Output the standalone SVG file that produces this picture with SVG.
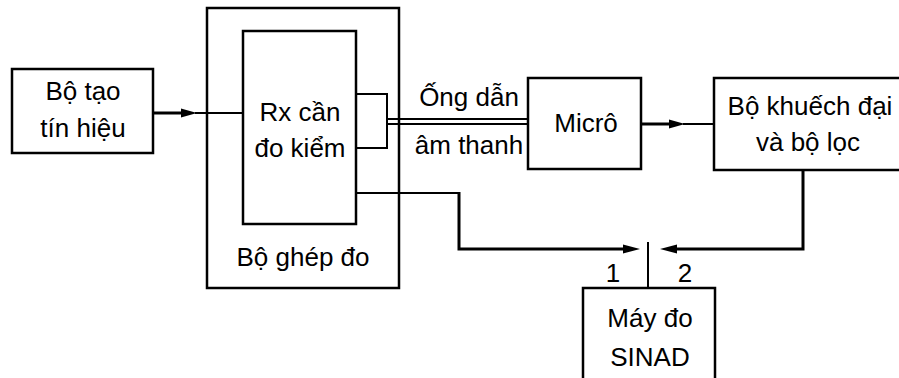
<svg xmlns="http://www.w3.org/2000/svg" width="899" height="378" viewBox="0 0 899 378">
<style>
.box{fill:none;stroke:#000;stroke-width:2.5}
.t{font-family:"Liberation Sans",Arial,sans-serif;font-size:26px;fill:#000;text-anchor:middle}
.w{fill:none;stroke:#000;stroke-width:3}
.n{fill:none;stroke:#000;stroke-width:2}
.ah{fill:#000;stroke:none}
</style>
<rect width="899" height="378" fill="#fff"/>
<g id="signal-generator">
<rect class="box" x="12" y="69" width="141" height="84"/>
<text class="t" x="83" y="100">Bộ tạo</text>
<text class="t" x="83" y="137">tín hiệu</text>
</g>
<g id="coupler">
<rect class="box" x="207" y="8" width="192" height="280"/>
<text class="t" x="303" y="266">Bộ ghép đo</text>
</g>
<g id="rx">
<rect class="box" x="243" y="31" width="113" height="193"/>
<text class="t" x="300" y="121">Rx cần</text>
<text class="t" x="300" y="157">đo kiểm</text>
</g>
<g id="tube-label">
<text class="t" x="469" y="106">Ống dẫn</text>
<text class="t" x="469" y="154">âm thanh</text>
</g>
<g id="micro">
<rect class="box" x="528" y="78" width="113" height="91"/>
<text class="t" x="586" y="132">Micrô</text>
</g>
<g id="amplifier">
<rect class="box" x="714" y="78" width="200" height="92"/>
<text class="t" x="810" y="115">Bộ khuếch đại</text>
<text class="t" x="808" y="151">và bộ lọc</text>
</g>
<g id="sinad">
<rect class="box" x="583" y="288" width="132" height="100"/>
<text class="t" x="650" y="327">Máy đo</text>
<text class="t" x="650" y="366">SINAD</text>
<text class="t" x="613" y="282">1</text>
<text class="t" x="685" y="282">2</text>
</g>
<g id="connectors">
<line class="w" x1="153" y1="113" x2="185" y2="113"/>
<polygon class="ah" points="197,113 181,108.5 181,117.5"/>
<line class="n" x1="195" y1="113" x2="243" y2="113"/>
<path class="n" d="M356,94 H387 V148 H356"/>
<line class="n" x1="387" y1="119" x2="528" y2="119"/>
<line class="n" x1="387" y1="124" x2="528" y2="124"/>
<line class="w" x1="641" y1="124" x2="673" y2="124"/>
<polygon class="ah" points="685,124 669,119.5 669,128.5"/>
<line class="n" x1="683" y1="124" x2="714" y2="124"/>
<path class="n" d="M356,193 H460"/>
<path class="w" d="M459,192 V249 H628"/>
<polygon class="ah" points="640,249 623,244.5 623,253.5"/>
<path class="w" d="M803,170 V249 H672"/>
<polygon class="ah" points="660,249 677,244.5 677,253.5"/>
<line class="n" x1="648" y1="242" x2="648" y2="288"/>
</g>
</svg>
